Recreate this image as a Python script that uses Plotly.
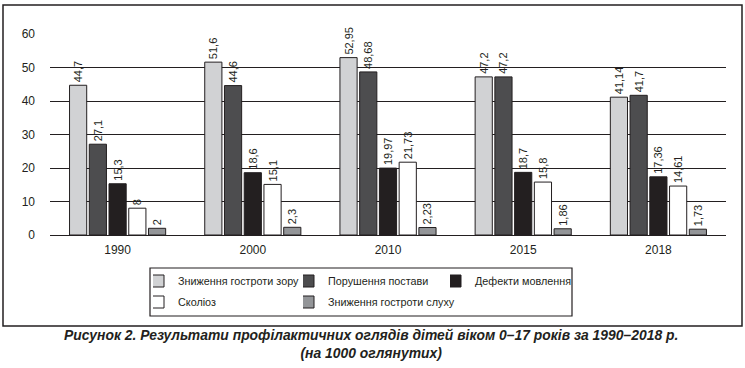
import plotly.graph_objects as go

years = ["1990", "2000", "2010", "2015", "2018"]
series_names = [
    "Зниження гостроти зору",
    "Порушення постави",
    "Дефекти мовлення",
    "Сколіоз",
    "Зниження гостроти слуху",
]
vision = [44.7, 51.6, 52.95, 47.2, 41.14]
posture = [27.1, 44.6, 48.68, 47.2, 41.7]
speech = [15.3, 18.6, 19.97, 18.7, 17.36]
scoliosis = [8, 15.1, 21.73, 15.8, 14.61]
hearing = [2, 2.3, 2.23, 1.86, 1.73]
y_ticks = [0, 10, 20, 30, 40, 50, 60]

series_values = [vision, posture, speech, scoliosis, hearing]
colors = ["#d1d2d4", "#4d4d4f", "#231f20", "#ffffff", "#939598"]

INK = "#231f20"
W, H = 745, 368
L, R, T, B = 50, 19, 34, 133
PW, PH = W - L - R, H - T - B


def px(x):
    return (x - L) / PW


def py(y):
    return (H - B - y) / PH


def fmt(v):
    return f"{v:g}".replace(".", ",")


# legend entry positions (page px): x of legend left, y of row center
legend_pos = [(153, 281), (303, 281), (450, 281), (153, 302), (303, 302)]
legend_ids = ["legend", "legend2", "legend3", "legend4", "legend5"]

fig = go.Figure()
for name, vals, col, lg in zip(series_names, series_values, colors, legend_ids):
    fig.add_trace(go.Bar(
        name=name, x=years, y=vals,
        marker=dict(color=col, line=dict(color=INK, width=1)),
        text=[fmt(v) for v in vals], textposition="outside", textangle=-90,
        textfont=dict(family="Arial, Liberation Sans", size=11, color=INK),
        cliponaxis=False, constraintext="none", legend=lg,
    ))

legend_common = dict(
    orientation="h", xanchor="left", yanchor="middle", indentation=-15,
    font=dict(family="Arial, Liberation Sans", size=10.8, color=INK),
    bgcolor="rgba(0,0,0,0)", borderwidth=0,
)
legend_layout = {
    lg: dict(x=px(lx), y=py(ly), **legend_common)
    for lg, (lx, ly) in zip(legend_ids, legend_pos)
}

fig.update_layout(
    width=W, height=H,
    margin=dict(l=L, r=R, t=T, b=B, autoexpand=False),
    paper_bgcolor="white", plot_bgcolor="white",
    barmode="group", bargap=0.27, bargroupgap=0.13,
    showlegend=True,
    font=dict(family="Arial, Liberation Sans", size=12, color=INK),
    xaxis=dict(showline=False, ticks="outside", ticklen=4, tickcolor="white",
               tickfont=dict(size=12, color=INK)),
    yaxis=dict(range=[0, 60], tickvals=y_ticks, showgrid=True, gridcolor=INK,
               gridwidth=1, zeroline=True, zerolinecolor=INK, zerolinewidth=1,
               showline=False, ticklabelstandoff=14,
               tickfont=dict(size=12, color=INK)),
    shapes=[
        dict(type="rect", xref="paper", yref="paper",
             x0=px(3), x1=px(742), y0=py(326), y1=py(5),
             line=dict(color=INK, width=1.5), fillcolor="rgba(0,0,0,0)", layer="below"),
        dict(type="rect", xref="paper", yref="paper",
             x0=px(150), x1=px(572), y0=py(316), y1=py(268),
             line=dict(color=INK, width=1.2), fillcolor="rgba(0,0,0,0)", layer="below"),
    ],
    annotations=[
        dict(xref="paper", yref="paper", x=px(371), y=py(344), xanchor="center",
             yanchor="middle", showarrow=False, align="center",
             text="<b><i>Рисунок 2. Результати профілактичних оглядів дітей віком 0–17 років за 1990–2018 р.<br>(на 1000 оглянутих)</i></b>",
             font=dict(family="Arial, Liberation Sans", size=13.9, color=INK)),
    ],
    **legend_layout,
)

fig.write_html("out.html", config={"displayModeBar": False},
               post_script="document.body.style.margin='0';")
